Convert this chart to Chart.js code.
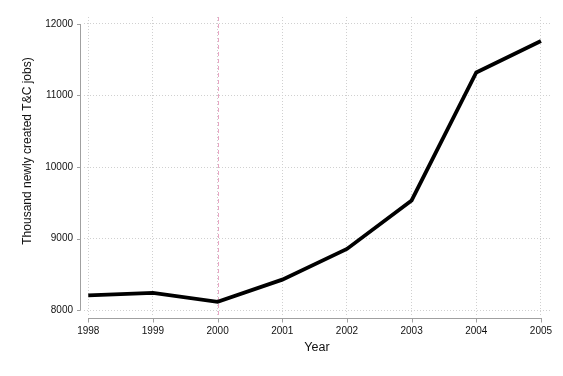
<!DOCTYPE html>
<html>
<head>
<meta charset="utf-8">
<script src="https://cdn.jsdelivr.net/npm/chart.js@4"></script>
<style>
    html, body { margin: 0; padding: 0; background: #fff; }
    #wrap { width: 563px; height: 376px; }
</style>
</head>
<body>
<div id="wrap"><canvas id="myChart" width="563" height="376"></canvas></div>
<script>
const years = [1998, 1999, 2000, 2001, 2002, 2003, 2004, 2005];
const jobs = [8205, 8240, 8115, 8425, 8855, 9532, 11322, 11761];
const yTicks = [8000, 9000, 10000, 11000, 12000];
const xTicks = years;
const markerYear = 2000;
const yTitle = 'Thousand newly created T&C jobs)';
const xTitle = 'Year';

const FONT = 'Arial, "Liberation Sans", sans-serif';

// axis lines are drawn offset from the plot area, like the original
const axisPlugin = {
    id: 'axisPlugin',
    beforeDatasetsDraw(chart) {
        const ctx = chart.ctx;
        const x = chart.scales.x;
        const area = chart.chartArea;
        // vertical marker
        const mx = Math.round(x.getPixelForValue(markerYear)) + 0.5;
        ctx.save();
        ctx.strokeStyle = '#e8a6c4';
        ctx.lineWidth = 1;
        ctx.setLineDash([4, 3]);
        ctx.beginPath();
        ctx.moveTo(mx, area.top);
        ctx.lineTo(mx, area.bottom);
        ctx.stroke();
        ctx.restore();
    },
    afterDraw(chart) {
        const ctx = chart.ctx;
        const x = chart.scales.x, y = chart.scales.y;
        const area = chart.chartArea;
        ctx.save();
        ctx.strokeStyle = '#a0a0a0';
        ctx.lineWidth = 1;
        // y axis
        const ax = area.left - 3.5;
        const yTop = Math.round(y.getPixelForValue(yTicks[yTicks.length - 1]));
        const yBot = Math.round(y.getPixelForValue(yTicks[0]));
        ctx.beginPath();
        ctx.moveTo(ax, yTop);
        ctx.lineTo(ax, yBot + 0.5);
        yTicks.forEach(v => {
            const p = Math.round(y.getPixelForValue(v)) + 0.5;
            ctx.moveTo(ax - 3.5, p);
            ctx.lineTo(ax, p);
        });
        ctx.stroke();
        // x axis
        const ay = area.bottom + 3.5;
        const xL = Math.round(x.getPixelForValue(xTicks[0]));
        const xR = Math.round(x.getPixelForValue(xTicks[xTicks.length - 1]));
        ctx.beginPath();
        ctx.moveTo(xL, ay);
        ctx.lineTo(xR + 1, ay);
        xTicks.forEach(v => {
            const p = Math.round(x.getPixelForValue(v)) + 0.5;
            ctx.moveTo(p, ay);
            ctx.lineTo(p, ay + 4);
        });
        ctx.stroke();
        // y title
        ctx.fillStyle = '#111';
        ctx.font = '12px ' + FONT;
        ctx.textAlign = 'center';
        ctx.textBaseline = 'middle';
        ctx.translate(28, 151);
        ctx.rotate(-Math.PI / 2);
        ctx.fillText(yTitle, 0, 0);
        ctx.restore();
    }
};

const ctx = document.getElementById('myChart').getContext('2d');
const chart = new Chart(ctx, {
    type: 'line',
    data: {
        datasets: [{
            data: years.map((yr, i) => ({ x: yr, y: jobs[i] })),
            borderColor: '#000',
            borderWidth: 3.8,
            pointRadius: 0,
            tension: 0,
            fill: false
        }]
    },
    options: {
        responsive: false,
        animation: false,
        layout: { padding: { top: 14, right: 13, left: 0, bottom: 0 } },
        plugins: {
            legend: { display: false },
            tooltip: { enabled: false }
        },
        scales: {
            x: {
                type: 'linear',
                min: 1997.934,
                max: 2005.14,
                afterBuildTicks: scale => { scale.ticks = xTicks.map(v => ({ value: v })); },
                afterFit: scale => { scale.height = 61; },
                border: { display: false, dash: [1, 2] },
                grid: {
                    color: '#d0d0d0',
                    lineWidth: 1,
                    drawTicks: false
                },
                ticks: {
                    padding: 10,
                    color: '#111',
                    font: { family: FONT, size: 10 },
                    callback: v => String(v)
                },
                title: {
                    display: true,
                    text: xTitle,
                    color: '#111',
                    font: { family: FONT, size: 12.5 },
                    padding: { top: 0, bottom: 21 }
                }
            },
            y: {
                min: 7931,
                max: 12097,
                afterBuildTicks: scale => { scale.ticks = yTicks.map(v => ({ value: v })); },
                afterFit: scale => { scale.width = 84; },
                border: { display: false, dash: [1, 2] },
                grid: {
                    color: '#d0d0d0',
                    lineWidth: 1,
                    drawTicks: false
                },
                ticks: {
                    padding: 11,
                    color: '#111',
                    font: { family: FONT, size: 10 },
                    callback: v => String(v)
                }
            }
        }
    },
    plugins: [axisPlugin]
});
</script>
</body>
</html>
